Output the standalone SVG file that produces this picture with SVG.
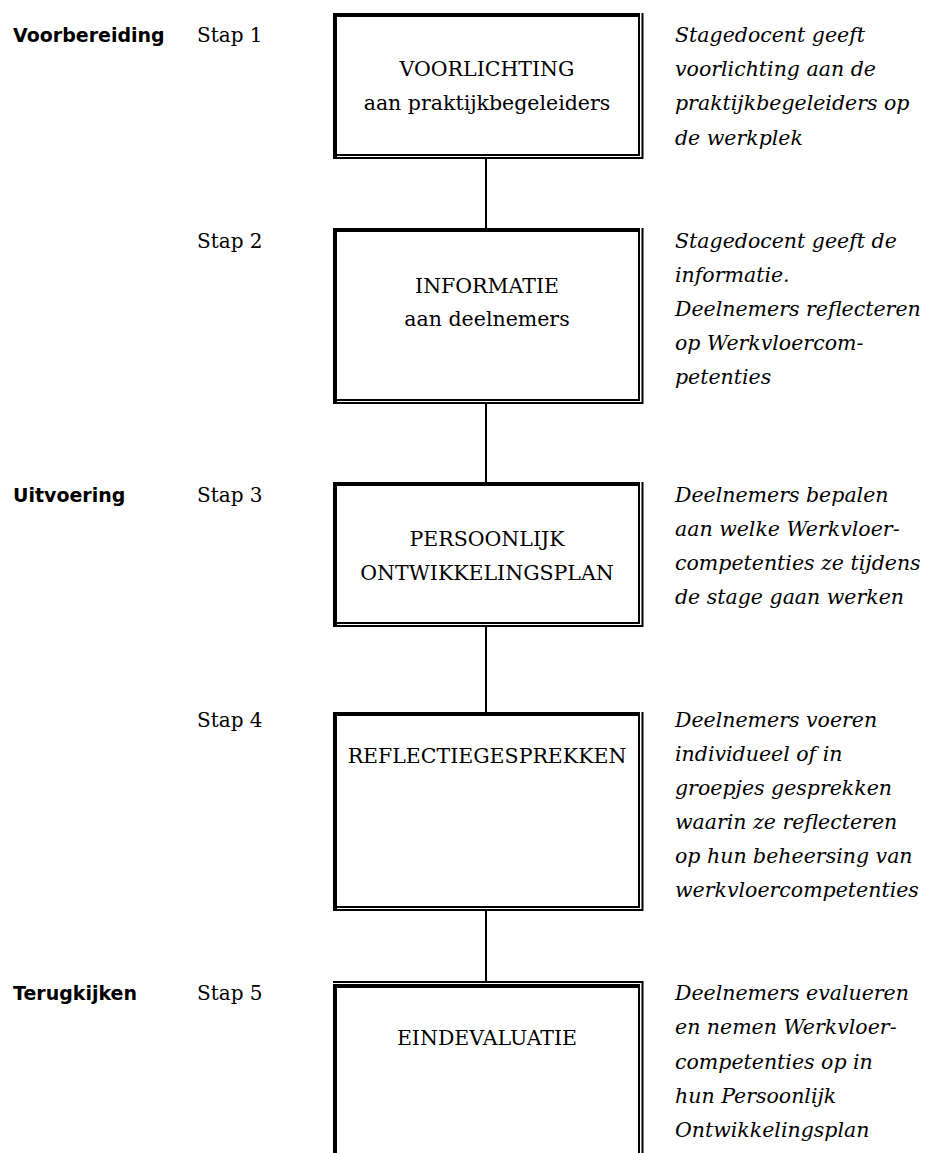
<svg xmlns="http://www.w3.org/2000/svg" width="934" height="1153" viewBox="0 0 934 1153">
<style>
.phase{font-family:"DejaVu Sans","Liberation Sans",sans-serif;font-weight:bold;font-size:19px;fill:#000}
.stap{font-family:"DejaVu Serif","Liberation Serif",serif;font-size:20px;fill:#000}
.bt{font-family:"DejaVu Serif","Liberation Serif",serif;font-size:20.5px;fill:#000;text-anchor:middle}
.desc{font-family:"DejaVu Serif","Liberation Serif",serif;font-style:italic;font-size:20.5px;fill:#000}
.thick{stroke:#000;stroke-width:4;fill:none}
.thin{stroke:#000;stroke-width:2;fill:none}
.conn{stroke:#000;stroke-width:2;fill:none}
</style>
<rect width="934" height="1153" fill="#fff"/>

<g id="labels">
<text class="phase" x="13" y="42">Voorbereiding</text>
<text class="phase" x="13" y="502">Uitvoering</text>
<text class="phase" x="13" y="1000">Terugkijken</text>
<text class="stap" x="197" y="42">Stap 1</text>
<text class="stap" x="197" y="248">Stap 2</text>
<text class="stap" x="197" y="502">Stap 3</text>
<text class="stap" x="197" y="727">Stap 4</text>
<text class="stap" x="197" y="1000">Stap 5</text>
</g>

<g id="connectors">
<line class="conn" x1="486" y1="159" x2="486" y2="228"/>
<line class="conn" x1="486" y1="404" x2="486" y2="482"/>
<line class="conn" x1="486" y1="627" x2="486" y2="712"/>
<line class="conn" x1="486" y1="911" x2="486" y2="981"/>
</g>

<g id="box1">
<path class="thick" d="M335,159 V15 H640"/>
<path class="thin" d="M639,14 V155 H334"/>
<path class="thin" d="M642.5,13 V158 H333"/>
<text class="bt" x="487" y="76">VOORLICHTING</text>
<text class="bt" x="487" y="110">aan praktijkbegeleiders</text>
</g>

<g id="box2">
<path class="thick" d="M335,404 V230 H640"/>
<path class="thin" d="M639,229 V400 H334"/>
<path class="thin" d="M642.5,228 V403 H333"/>
<text class="bt" x="487" y="293">INFORMATIE</text>
<text class="bt" x="487" y="326">aan deelnemers</text>
</g>

<g id="box3">
<path class="thick" d="M335,627 V484 H640"/>
<path class="thin" d="M639,483 V623 H334"/>
<path class="thin" d="M642.5,482 V626 H333"/>
<text class="bt" x="487" y="546">PERSOONLIJK</text>
<text class="bt" x="487" y="580">ONTWIKKELINGSPLAN</text>
</g>

<g id="box4">
<path class="thick" d="M335,911 V714 H640"/>
<path class="thin" d="M639,713 V907 H334"/>
<path class="thin" d="M642.5,712 V910 H333"/>
<text class="bt" x="487" y="763">REFLECTIEGESPREKKEN</text>
</g>

<g id="box5">
<path class="thin" d="M333,982 H643.5"/>
<path class="thick" d="M335,1153 V986 H640"/>
<path class="thin" d="M639,985 V1153"/>
<path class="thin" d="M642.5,982 V1153"/>
<text class="bt" x="487" y="1045">EINDEVALUATIE</text>
</g>

<g id="descriptions">
<text class="desc" x="675" y="42">Stagedocent geeft</text>
<text class="desc" x="675" y="76">voorlichting aan de</text>
<text class="desc" x="675" y="110">praktijkbegeleiders op</text>
<text class="desc" x="675" y="145">de werkplek</text>

<text class="desc" x="675" y="248">Stagedocent geeft de</text>
<text class="desc" x="675" y="282">informatie.</text>
<text class="desc" x="675" y="316">Deelnemers reflecteren</text>
<text class="desc" x="675" y="350">op Werkvloercom-</text>
<text class="desc" x="675" y="384">petenties</text>

<text class="desc" x="675" y="502">Deelnemers bepalen</text>
<text class="desc" x="675" y="536">aan welke Werkvloer-</text>
<text class="desc" x="675" y="570">competenties ze tijdens</text>
<text class="desc" x="675" y="604">de stage gaan werken</text>

<text class="desc" x="675" y="727">Deelnemers voeren</text>
<text class="desc" x="675" y="761">individueel of in</text>
<text class="desc" x="675" y="795">groepjes gesprekken</text>
<text class="desc" x="675" y="829">waarin ze reflecteren</text>
<text class="desc" x="675" y="863">op hun beheersing van</text>
<text class="desc" x="675" y="897">werkvloercompetenties</text>

<text class="desc" x="675" y="1000">Deelnemers evalueren</text>
<text class="desc" x="675" y="1034">en nemen Werkvloer-</text>
<text class="desc" x="675" y="1069">competenties op in</text>
<text class="desc" x="675" y="1103">hun Persoonlijk</text>
<text class="desc" x="675" y="1137">Ontwikkelingsplan</text>
</g>
</svg>
